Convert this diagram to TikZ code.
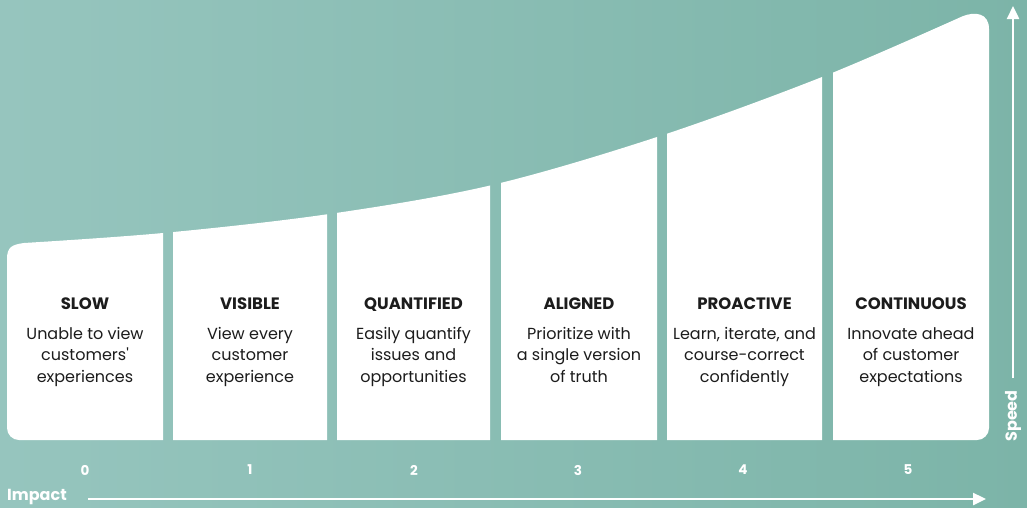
\documentclass[tikz,border=0pt]{standalone}
\usepackage{fontspec}
\setmainfont{Poppins}
\usetikzlibrary{arrows.meta}
\definecolor{bgL}{RGB}{150,197,190}
\definecolor{bgR}{RGB}{124,180,168}
\definecolor{ink}{RGB}{28,28,28}
\tikzset{
  stagetitle/.style={font=\fontsize{16.5}{18}\selectfont\bfseries, text=ink, inner sep=0pt, anchor=base},
  stagebody/.style={font=\fontsize{16}{21.3}\selectfont, text=ink, align=center, inner sep=0pt, anchor=north},
  numlabel/.style={font=\fontsize{13.5}{15}\selectfont\bfseries, text=white, inner sep=0pt},
  axislabel/.style={font=\fontsize{16}{18}\selectfont\bfseries, text=white, inner sep=0pt},
  axisarrow/.style={draw=white, line width=2.4pt, -{Triangle[length=13pt,width=12pt]}},
}
\newcommand{\barshape}{(7,262) -- (7,259) .. controls (7,247) and (12,244.6) .. (24,243)
  -- plot[smooth, tension=0.55] coordinates {(24,243) (163,233) (327,214.3) (490,185.5) (657,137) (822,77) (962,16.5)}
  .. controls (975,11) and (989,13) .. (989,29)
  -- (989,428) .. controls (989,434.6) and (983.6,440) .. (977,440)
  -- (19,440) .. controls (12.4,440) and (7,434.6) .. (7,428) -- cycle}
\begin{document}
\begin{tikzpicture}[x=1pt,y=-1pt]
\useasboundingbox (0,0) rectangle (1027,507);
\shade[left color=bgL, right color=bgR] (0,0) rectangle (1027,507);
% bars
\foreach \xa/\xb in {7/163, 173/327, 337/490, 501/657, 667/822, 833/989}{
  \begin{scope}
    \clip (\xa,0) rectangle (\xb,450);
    \fill[white] \barshape;
  \end{scope}
}
% stage texts
\node[stagetitle] (t0) at (85,309) {SLOW};
\node[stagetitle] (t1) at (250,309) {VISIBLE};
\node[stagetitle] (t2) at (413.5,309) {QUANTIFIED};
\node[stagetitle] (t3) at (579,309) {ALIGNED};
\node[stagetitle] (t4) at (744.5,309) {PROACTIVE};
\node[stagetitle] (t5) at (911,309) {CONTINUOUS};
\node[stagebody] (b0) at (85,324.5) {\strut Unable to view\\customers\textquotesingle\\experiences};
\node[stagebody] (b1) at (250,324.5) {\strut View every\\customer\\experience};
\node[stagebody] (b2) at (413.5,324.5) {\strut Easily quantify\\issues and\\opportunities};
\node[stagebody] (b3) at (579,324.5) {\strut Prioritize with\\a single version\\of truth};
\node[stagebody] (b4) at (744.5,324.5) {\strut Learn, iterate, and\\course-correct\\confidently};
\node[stagebody] (b5) at (911,324.5) {\strut Innovate ahead\\of customer\\expectations};
% numbers
\node[numlabel] (n0) at (85,470) {0};
\node[numlabel] (n1) at (250,470) {1};
\node[numlabel] (n2) at (414,470) {2};
\node[numlabel] (n3) at (578,470) {3};
\node[numlabel] (n4) at (743,470) {4};
\node[numlabel] (n5) at (908,470) {5};
% axes
\node[axislabel, anchor=west] (impact) at (7,497) {Impact};
\coordinate (hx0) at (88,499);
\coordinate (hx1) at (986,499);
\draw[axisarrow] (hx0) -- (hx1);
\node[axislabel, rotate=90] (speed) at (1013,416) {Speed};
\coordinate (vy0) at (1013,378);
\coordinate (vy1) at (1013,6);
\draw[axisarrow] (vy0) -- (vy1);
\end{tikzpicture}
\end{document}
